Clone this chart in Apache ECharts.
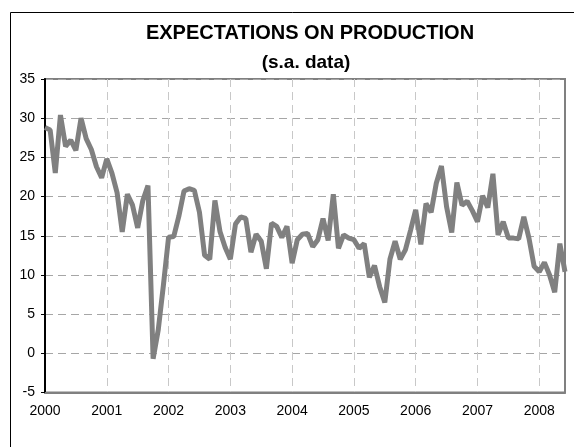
<!DOCTYPE html>
<html>
<head>
<meta charset="utf-8">
<script src="https://cdn.jsdelivr.net/npm/echarts@6/dist/echarts.min.js"></script>
<style>
  html, body { margin: 0; padding: 0; background: #fff; }
  #chart { width: 574px; height: 447px; }
</style>
</head>
<body>
<div id="chart"></div>
<script>
// months Jan 2000 .. Jun 2008
const years = ['2000', '2001', '2002', '2003', '2004', '2005', '2006', '2007', '2008']
const months = []
years.forEach(y => {
  for (let m = 1; m <= 12; m++) {
    if (y === '2008' && m > 6) break
    months.push(y + '-' + String(m).padStart(2, '0'))
  }
})

const expectations = [
  28.8, 28.5, 23.0, 30.4, 26.4, 27.2, 25.9, 30.0, 27.4, 26.0, 23.8, 22.4,
  24.8, 23.0, 20.5, 15.5, 20.3, 18.9, 16.0, 19.5, 21.4, -0.7, 3.0, 8.7,
  14.8, 14.9, 17.5, 20.7, 21.0, 20.8, 18.0, 12.5, 12.0, 19.5, 15.5, 13.5,
  12.0, 16.5, 17.4, 17.2, 12.9, 15.2, 14.3, 10.8, 16.6, 16.2, 14.8, 16.2,
  11.5, 14.5, 15.2, 15.3, 13.6, 14.5, 17.2, 14.4, 20.3, 13.4, 15.1, 14.7,
  14.5, 13.4, 14.0, 9.7, 11.2, 8.5, 6.5, 12.0, 14.3, 12.0, 13.2, 15.7,
  18.3, 13.9, 19.1, 18.0, 21.7, 23.9, 18.7, 15.4, 21.8, 18.9, 19.4, 18.2,
  16.8, 20.1, 18.6, 22.9, 15.1, 16.8, 14.7, 14.7, 14.6, 17.4, 14.7, 11.1,
  10.4, 11.6, 10.0, 7.8, 14.0, 10.4
]

const yTicks = { min: -5, max: 35, step: 5 }

const chart = echarts.init(document.getElementById('chart'))
const isYearStart = (i) => i % 12 === 0

chart.setOption({
  animation: false,
  backgroundColor: '#fff',
  textStyle: { fontFamily: 'Liberation Sans, Arial, sans-serif' },
  graphic: [
    { type: 'rect', shape: { x: 10.5, y: 12.5, width: 700, height: 600 },
      style: { fill: 'none', stroke: '#000', lineWidth: 1 }, silent: true },
    { type: 'text', x: 310, y: 23,
      style: { text: 'EXPECTATIONS ON PRODUCTION', textAlign: 'center', fill: '#000',
               font: 'bold 20px "Liberation Sans", Arial, sans-serif' } },
    { type: 'text', x: 306, y: 53,
      style: { text: '(s.a. data)', textAlign: 'center', fill: '#000',
               font: 'bold 19px "Liberation Sans", Arial, sans-serif' } }
  ],
  grid: {
    left: 45, top: 79, width: 520, height: 313.5,
    show: true, borderColor: '#808080', borderWidth: 2, backgroundColor: 'transparent'
  },
  xAxis: {
    type: 'category',
    data: months,
    boundaryGap: false,
    axisLine: { onZero: false, lineStyle: { color: '#808080', width: 2 } },
    axisTick: { show: false },
    axisLabel: {
      interval: (i) => isYearStart(i),
      formatter: v => v.slice(0, 4),
      color: '#000', fontSize: 14, margin: 12
    },
    splitLine: {
      show: true,
      interval: (i) => isYearStart(i),
      lineStyle: { color: '#c8c8c8', type: [8, 5], width: 1 }
    }
  },
  yAxis: {
    type: 'value',
    min: yTicks.min, max: yTicks.max, interval: yTicks.step,
    axisLine: { show: true, lineStyle: { color: '#000', width: 2 } },
    axisTick: { show: true, length: 4, lineStyle: { color: '#000' } },
    axisLabel: { color: '#000', fontSize: 14, margin: 10 },
    splitLine: { lineStyle: { color: '#a6a6a6', type: [8, 5], width: 1 } }
  },
  series: [{
    type: 'line',
    data: expectations,
    showSymbol: false,
    symbol: 'none',
    lineStyle: { color: '#808080', width: 5, join: 'bevel' }
  }]
})
</script>
</body>
</html>
